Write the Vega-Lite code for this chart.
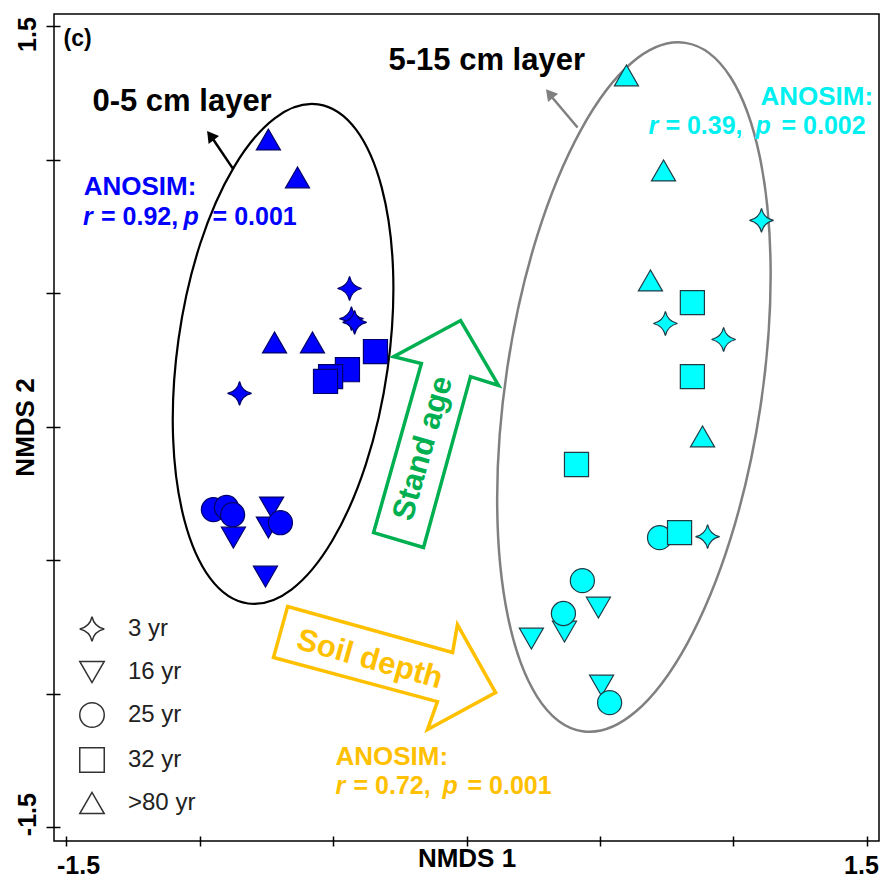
{
  "$schema": "https://vega.github.io/schema/vega-lite/v6.json",
  "width": 825,
  "height": 827,
  "autosize": "none",
  "padding": {"left": 54, "top": 14, "right": 4, "bottom": 39},
  "background": "white",
  "datasets": {
    "pts": [
      {"depth": "0-5 cm", "age": "3 yr", "x": -0.438, "y": 0.517},
      {"depth": "0-5 cm", "age": "3 yr", "x": -0.431, "y": 0.404},
      {"depth": "0-5 cm", "age": "3 yr", "x": -0.419, "y": 0.390},
      {"depth": "0-5 cm", "age": "3 yr", "x": -0.850, "y": 0.124},
      {"depth": "0-5 cm", "age": "16 yr", "x": -0.873, "y": -0.416},
      {"depth": "0-5 cm", "age": "16 yr", "x": -0.730, "y": -0.303},
      {"depth": "0-5 cm", "age": "16 yr", "x": -0.742, "y": -0.378},
      {"depth": "0-5 cm", "age": "16 yr", "x": -0.753, "y": -0.562},
      {"depth": "0-5 cm", "age": "25 yr", "x": -0.948, "y": -0.311},
      {"depth": "0-5 cm", "age": "25 yr", "x": -0.899, "y": -0.303},
      {"depth": "0-5 cm", "age": "25 yr", "x": -0.876, "y": -0.330},
      {"depth": "0-5 cm", "age": "25 yr", "x": -0.697, "y": -0.360},
      {"depth": "0-5 cm", "age": "32 yr", "x": -0.341, "y": 0.281},
      {"depth": "0-5 cm", "age": "32 yr", "x": -0.446, "y": 0.213},
      {"depth": "0-5 cm", "age": "32 yr", "x": -0.509, "y": 0.187},
      {"depth": "0-5 cm", "age": "32 yr", "x": -0.528, "y": 0.169},
      {"depth": "0-5 cm", "age": ">80 yr", "x": -0.742, "y": 1.075},
      {"depth": "0-5 cm", "age": ">80 yr", "x": -0.633, "y": 0.933},
      {"depth": "0-5 cm", "age": ">80 yr", "x": -0.719, "y": 0.315},
      {"depth": "0-5 cm", "age": ">80 yr", "x": -0.577, "y": 0.315},
      {"depth": "5-15 cm", "age": "3 yr", "x": 1.105, "y": 0.772},
      {"depth": "5-15 cm", "age": "3 yr", "x": 0.745, "y": 0.386},
      {"depth": "5-15 cm", "age": "3 yr", "x": 0.963, "y": 0.326},
      {"depth": "5-15 cm", "age": "3 yr", "x": 0.903, "y": -0.412},
      {"depth": "5-15 cm", "age": "16 yr", "x": 0.494, "y": -0.678},
      {"depth": "5-15 cm", "age": "16 yr", "x": 0.367, "y": -0.768},
      {"depth": "5-15 cm", "age": "16 yr", "x": 0.243, "y": -0.794},
      {"depth": "5-15 cm", "age": "16 yr", "x": 0.506, "y": -0.970},
      {"depth": "5-15 cm", "age": "25 yr", "x": 0.723, "y": -0.416},
      {"depth": "5-15 cm", "age": "25 yr", "x": 0.434, "y": -0.577},
      {"depth": "5-15 cm", "age": "25 yr", "x": 0.363, "y": -0.700},
      {"depth": "5-15 cm", "age": "25 yr", "x": 0.536, "y": -1.034},
      {"depth": "5-15 cm", "age": "32 yr", "x": 0.846, "y": 0.464},
      {"depth": "5-15 cm", "age": "32 yr", "x": 0.846, "y": 0.187},
      {"depth": "5-15 cm", "age": "32 yr", "x": 0.412, "y": -0.142},
      {"depth": "5-15 cm", "age": "32 yr", "x": 0.798, "y": -0.397},
      {"depth": "5-15 cm", "age": ">80 yr", "x": 0.599, "y": 1.315},
      {"depth": "5-15 cm", "age": ">80 yr", "x": 0.738, "y": 0.959},
      {"depth": "5-15 cm", "age": ">80 yr", "x": 0.689, "y": 0.547},
      {"depth": "5-15 cm", "age": ">80 yr", "x": 0.884, "y": -0.037}
    ],
    "ellBlack": [{"x": -0.687, "y": 0.272}],
    "ellGray": [{"x": 0.627, "y": 0.148}],
    "arrowGreen": [
      {"i": 0, "x": -0.022, "y": 0.397},
      {"i": 1, "x": 0.120, "y": 0.154},
      {"i": 2, "x": 0.015, "y": 0.187},
      {"i": 3, "x": -0.161, "y": -0.453},
      {"i": 4, "x": -0.348, "y": -0.397},
      {"i": 5, "x": -0.169, "y": 0.236},
      {"i": 6, "x": -0.273, "y": 0.262}
    ],
    "arrowGold": [
      {"i": 0, "x": -0.670, "y": -0.674},
      {"i": 1, "x": -0.052, "y": -0.846},
      {"i": 2, "x": -0.034, "y": -0.742},
      {"i": 3, "x": 0.109, "y": -0.996},
      {"i": 4, "x": -0.146, "y": -1.135},
      {"i": 5, "x": -0.109, "y": -1.030},
      {"i": 6, "x": -0.723, "y": -0.865}
    ],
    "shaftBlack": [{"x": -0.873, "y": 0.963, "x2": -0.951, "y2": 1.079}],
    "shaftGray": [{"x": 0.416, "y": 1.120, "x2": 0.318, "y2": 1.236}],
    "headBlack": [{"x": -0.959, "y": 1.090}],
    "headGray": [{"x": 0.311, "y": 1.247}],
    "layerLabels": [
      {"t": "0-5 cm layer", "x": -1.401, "y": 1.180},
      {"t": "5-15 cm layer", "x": -0.292, "y": 1.337}
    ],
    "panel": [{"t": "(c)", "x": -1.509, "y": 1.427}],
    "anosimTitles": [
      {"t": "ANOSIM:", "x": -1.434, "y": 0.866, "g": "blue"},
      {"t": "ANOSIM:", "x": 1.101, "y": 1.206, "g": "cyan"},
      {"t": "ANOSIM:", "x": -0.491, "y": -1.266, "g": "gold"}
    ],
    "statsN": [
      {"t": "= 0.92,", "x": -1.369, "y": 0.756, "g": "blue"},
      {"t": "= 0.001", "x": -0.951, "y": 0.756, "g": "blue"},
      {"t": "= 0.39,", "x": 0.745, "y": 1.094, "g": "cyan"},
      {"t": "= 0.002", "x": 1.180, "y": 1.094, "g": "cyan"},
      {"t": "= 0.72,", "x": -0.423, "y": -1.375, "g": "gold"},
      {"t": "= 0.001", "x": 0.004, "y": -1.375, "g": "gold"}
    ],
    "statsI": [
      {"t": "r", "x": -1.436, "y": 0.756, "g": "blue"},
      {"t": "p", "x": -1.060, "y": 0.756, "g": "blue"},
      {"t": "r", "x": 0.682, "y": 1.094, "g": "cyan"},
      {"t": "p", "x": 1.082, "y": 1.094, "g": "cyan"},
      {"t": "r", "x": -0.491, "y": -1.375, "g": "gold"},
      {"t": "p", "x": -0.090, "y": -1.375, "g": "gold"}
    ],
    "standAge": [{"t": "Stand age", "x": -0.161, "y": -0.082}],
    "soilDepth": [{"t": "Soil depth", "x": -0.363, "y": -0.873}]
  },
  "layer": [
    {
      "mark": {"type": "rule", "color": "#555555", "strokeDash": [2, 2], "strokeWidth": 1.3},
      "encoding": {"x": {"datum": 0, "type": "quantitative"}}
    },
    {
      "mark": {"type": "rule", "color": "#555555", "strokeDash": [2, 2], "strokeWidth": 1.3},
      "encoding": {"y": {"datum": 0, "type": "quantitative"}}
    },
    {
      "data": {"name": "ellBlack"},
      "mark": {"type": "point", "filled": false, "shape": "M0,-1A0.419,1,0,1,1,0,1A0.419,1,0,1,1,0,-1Z", "size": 254016, "angle": 8, "stroke": "black", "strokeWidth": 2.2, "opacity": 1},
      "encoding": {"x": {"field": "x", "type": "quantitative"}, "y": {"field": "y", "type": "quantitative"}}
    },
    {
      "data": {"name": "ellGray"},
      "mark": {"type": "point", "filled": false, "shape": "M0,-1A0.368,1,0,1,1,0,1A0.368,1,0,1,1,0,-1Z", "size": 484416, "angle": 8.5, "stroke": "#808080", "strokeWidth": 2.5, "opacity": 1},
      "encoding": {"x": {"field": "x", "type": "quantitative"}, "y": {"field": "y", "type": "quantitative"}}
    },
    {
      "data": {"name": "arrowGreen"},
      "mark": {"type": "line", "interpolate": "linear-closed", "color": "#00B050", "strokeWidth": 3.5, "strokeJoin": "miter"},
      "encoding": {"x": {"field": "x", "type": "quantitative"}, "y": {"field": "y", "type": "quantitative"}, "order": {"field": "i", "type": "quantitative"}}
    },
    {
      "data": {"name": "arrowGold"},
      "mark": {"type": "line", "interpolate": "linear-closed", "color": "#FFC000", "strokeWidth": 3.5, "strokeJoin": "miter"},
      "encoding": {"x": {"field": "x", "type": "quantitative"}, "y": {"field": "y", "type": "quantitative"}, "order": {"field": "i", "type": "quantitative"}}
    },
    {
      "data": {"name": "shaftBlack"},
      "mark": {"type": "rule", "color": "black", "strokeWidth": 2.5},
      "encoding": {"x": {"field": "x", "type": "quantitative"}, "y": {"field": "y", "type": "quantitative"}, "x2": {"field": "x2"}, "y2": {"field": "y2"}}
    },
    {
      "data": {"name": "shaftGray"},
      "mark": {"type": "rule", "color": "#808080", "strokeWidth": 2.5},
      "encoding": {"x": {"field": "x", "type": "quantitative"}, "y": {"field": "y", "type": "quantitative"}, "x2": {"field": "x2"}, "y2": {"field": "y2"}}
    },
    {
      "data": {"name": "headBlack"},
      "mark": {"type": "point", "filled": true, "shape": "triangle-up", "size": 170, "angle": -37, "color": "black", "opacity": 1},
      "encoding": {"x": {"field": "x", "type": "quantitative"}, "y": {"field": "y", "type": "quantitative"}}
    },
    {
      "data": {"name": "headGray"},
      "mark": {"type": "point", "filled": true, "shape": "triangle-up", "size": 170, "angle": -39, "color": "#808080", "opacity": 1},
      "encoding": {"x": {"field": "x", "type": "quantitative"}, "y": {"field": "y", "type": "quantitative"}}
    },
    {
      "data": {"name": "pts"},
      "mark": {"type": "point", "filled": true, "opacity": 1, "strokeWidth": 1.2, "size": 580},
      "encoding": {
        "x": {
          "field": "x", "type": "quantitative",
          "scale": {"domain": [-1.545, 1.545], "nice": false, "zero": false},
          "axis": {
            "values": [-1.5, -1, -0.5, 0, 0.5, 1, 1.5],
            "labelExpr": "datum.value == -1.5 ? '-1.5' : (datum.value == 1.5 ? '1.5' : '')",
            "domain": false, "grid": false, "offset": -5, "tickSize": 10, "tickColor": "black", "tickWidth": 1.5,
            "labelFont": "Liberation Sans", "labelFontSize": 25, "labelFontWeight": "bold", "labelColor": "black",
            "labelBaseline": "alphabetic", "labelAlign": "center", "labelPadding": 27, "labelFlush": false, "labelOverlap": false, "labelBound": false,
            "labelOffset": {"condition": {"test": "datum.value < 0", "value": 12}, "value": -6},
            "title": "NMDS 1", "titleFont": "Liberation Sans", "titleFontSize": 26, "titleFontWeight": "bold", "titleColor": "black",
            "titleBaseline": "alphabetic", "titleY": 30
          }
        },
        "y": {
          "field": "y", "type": "quantitative",
          "scale": {"domain": [-1.552, 1.545], "nice": false, "zero": false},
          "axis": {
            "values": [-1.5, -1, -0.5, 0, 0.5, 1, 1.5],
            "labelExpr": "datum.value == -1.5 ? '-1.5' : (datum.value == 1.5 ? '1.5' : '')",
            "domain": false, "grid": false, "offset": -6, "tickSize": 14, "tickColor": "black", "tickWidth": 1.5,
            "labelFont": "Liberation Sans", "labelFontSize": 25, "labelFontWeight": "bold", "labelColor": "black",
            "labelAngle": -90, "labelAlign": "center", "labelBaseline": "alphabetic", "labelPadding": 11, "labelFlush": false, "labelOverlap": false, "labelBound": false,
            "labelOffset": {"condition": {"test": "datum.value > 0", "value": 8}, "value": -13},
            "title": "NMDS 2", "titleFont": "Liberation Sans", "titleFontSize": 26, "titleFontWeight": "bold", "titleColor": "black",
            "titleAngle": -90, "titleAlign": "center", "titleBaseline": "alphabetic", "titleX": -27, "titleY": 413
          }
        },
        "shape": {
          "field": "age", "type": "nominal",
          "scale": {
            "domain": ["3 yr", "16 yr", "25 yr", "32 yr", ">80 yr"],
            "range": ["M0,-1Q0.18,-0.18,1,0Q0.18,0.18,0,1Q-0.18,0.18,-1,0Q-0.18,-0.18,0,-1Z", "triangle-down", "circle", "square", "triangle-up"]
          },
          "legend": {
            "orient": "none", "legendX": 25, "legendY": 602, "title": null,
            "symbolSize": 600, "symbolStrokeWidth": 1.5, "symbolFillColor": "white", "symbolStrokeColor": "#333333",
            "labelFont": "Liberation Sans", "labelFontSize": 24, "labelColor": "#222222", "labelOffset": 23, "rowPadding": 13, "padding": 0,
            "encode": {"symbols": {"update": {"fill": {"value": "white"}, "stroke": {"value": "#333333"}, "strokeWidth": {"value": 1.5}, "opacity": {"value": 1}}}}
          }
        },
        "fill": {
          "field": "depth", "type": "nominal",
          "scale": {"domain": ["0-5 cm", "5-15 cm"], "range": ["#0000FF", "#00FFFF"]},
          "legend": null
        },
        "stroke": {
          "field": "depth", "type": "nominal",
          "scale": {"domain": ["0-5 cm", "5-15 cm"], "range": ["#00006B", "#1E3C46"]},
          "legend": null
        }
      }
    },
    {
      "data": {"name": "layerLabels"},
      "mark": {"type": "text", "align": "left", "baseline": "alphabetic", "font": "Liberation Sans", "fontSize": 31, "fontWeight": "bold", "color": "black"},
      "encoding": {"x": {"field": "x", "type": "quantitative"}, "y": {"field": "y", "type": "quantitative"}, "text": {"field": "t"}}
    },
    {
      "data": {"name": "panel"},
      "mark": {"type": "text", "align": "left", "baseline": "alphabetic", "font": "Liberation Sans", "fontSize": 23, "fontWeight": "bold", "color": "black"},
      "encoding": {"x": {"field": "x", "type": "quantitative"}, "y": {"field": "y", "type": "quantitative"}, "text": {"field": "t"}}
    },
    {
      "data": {"name": "anosimTitles"},
      "mark": {"type": "text", "align": "left", "baseline": "alphabetic", "font": "Liberation Sans", "fontSize": 26, "fontWeight": "bold"},
      "encoding": {
        "x": {"field": "x", "type": "quantitative"}, "y": {"field": "y", "type": "quantitative"}, "text": {"field": "t"},
        "color": {"field": "g", "type": "nominal", "scale": {"domain": ["blue", "cyan", "gold"], "range": ["#0000FF", "#00F0F0", "#FFC000"]}, "legend": null}
      }
    },
    {
      "data": {"name": "statsN"},
      "mark": {"type": "text", "align": "left", "baseline": "alphabetic", "font": "Liberation Sans", "fontSize": 25, "fontWeight": "bold"},
      "encoding": {
        "x": {"field": "x", "type": "quantitative"}, "y": {"field": "y", "type": "quantitative"}, "text": {"field": "t"},
        "color": {"field": "g", "type": "nominal", "scale": {"domain": ["blue", "cyan", "gold"], "range": ["#0000FF", "#00F0F0", "#FFC000"]}, "legend": null}
      }
    },
    {
      "data": {"name": "statsI"},
      "mark": {"type": "text", "align": "left", "baseline": "alphabetic", "font": "Liberation Sans", "fontSize": 25, "fontWeight": "bold", "fontStyle": "italic"},
      "encoding": {
        "x": {"field": "x", "type": "quantitative"}, "y": {"field": "y", "type": "quantitative"}, "text": {"field": "t"},
        "color": {"field": "g", "type": "nominal", "scale": {"domain": ["blue", "cyan", "gold"], "range": ["#0000FF", "#00F0F0", "#FFC000"]}, "legend": null}
      }
    },
    {
      "data": {"name": "standAge"},
      "mark": {"type": "text", "align": "center", "baseline": "middle", "angle": -74, "font": "Liberation Sans", "fontSize": 31, "fontWeight": "bold", "color": "#00B050"},
      "encoding": {"x": {"field": "x", "type": "quantitative"}, "y": {"field": "y", "type": "quantitative"}, "text": {"field": "t"}}
    },
    {
      "data": {"name": "soilDepth"},
      "mark": {"type": "text", "align": "center", "baseline": "middle", "angle": 15.6, "font": "Liberation Sans", "fontSize": 31, "fontWeight": "bold", "color": "#FFC000"},
      "encoding": {"x": {"field": "x", "type": "quantitative"}, "y": {"field": "y", "type": "quantitative"}, "text": {"field": "t"}}
    }
  ],
  "config": {
    "view": {"stroke": "black", "strokeWidth": 1.5},
    "font": "Liberation Sans",
    "axis": {"grid": false, "domain": false}
  }
}
